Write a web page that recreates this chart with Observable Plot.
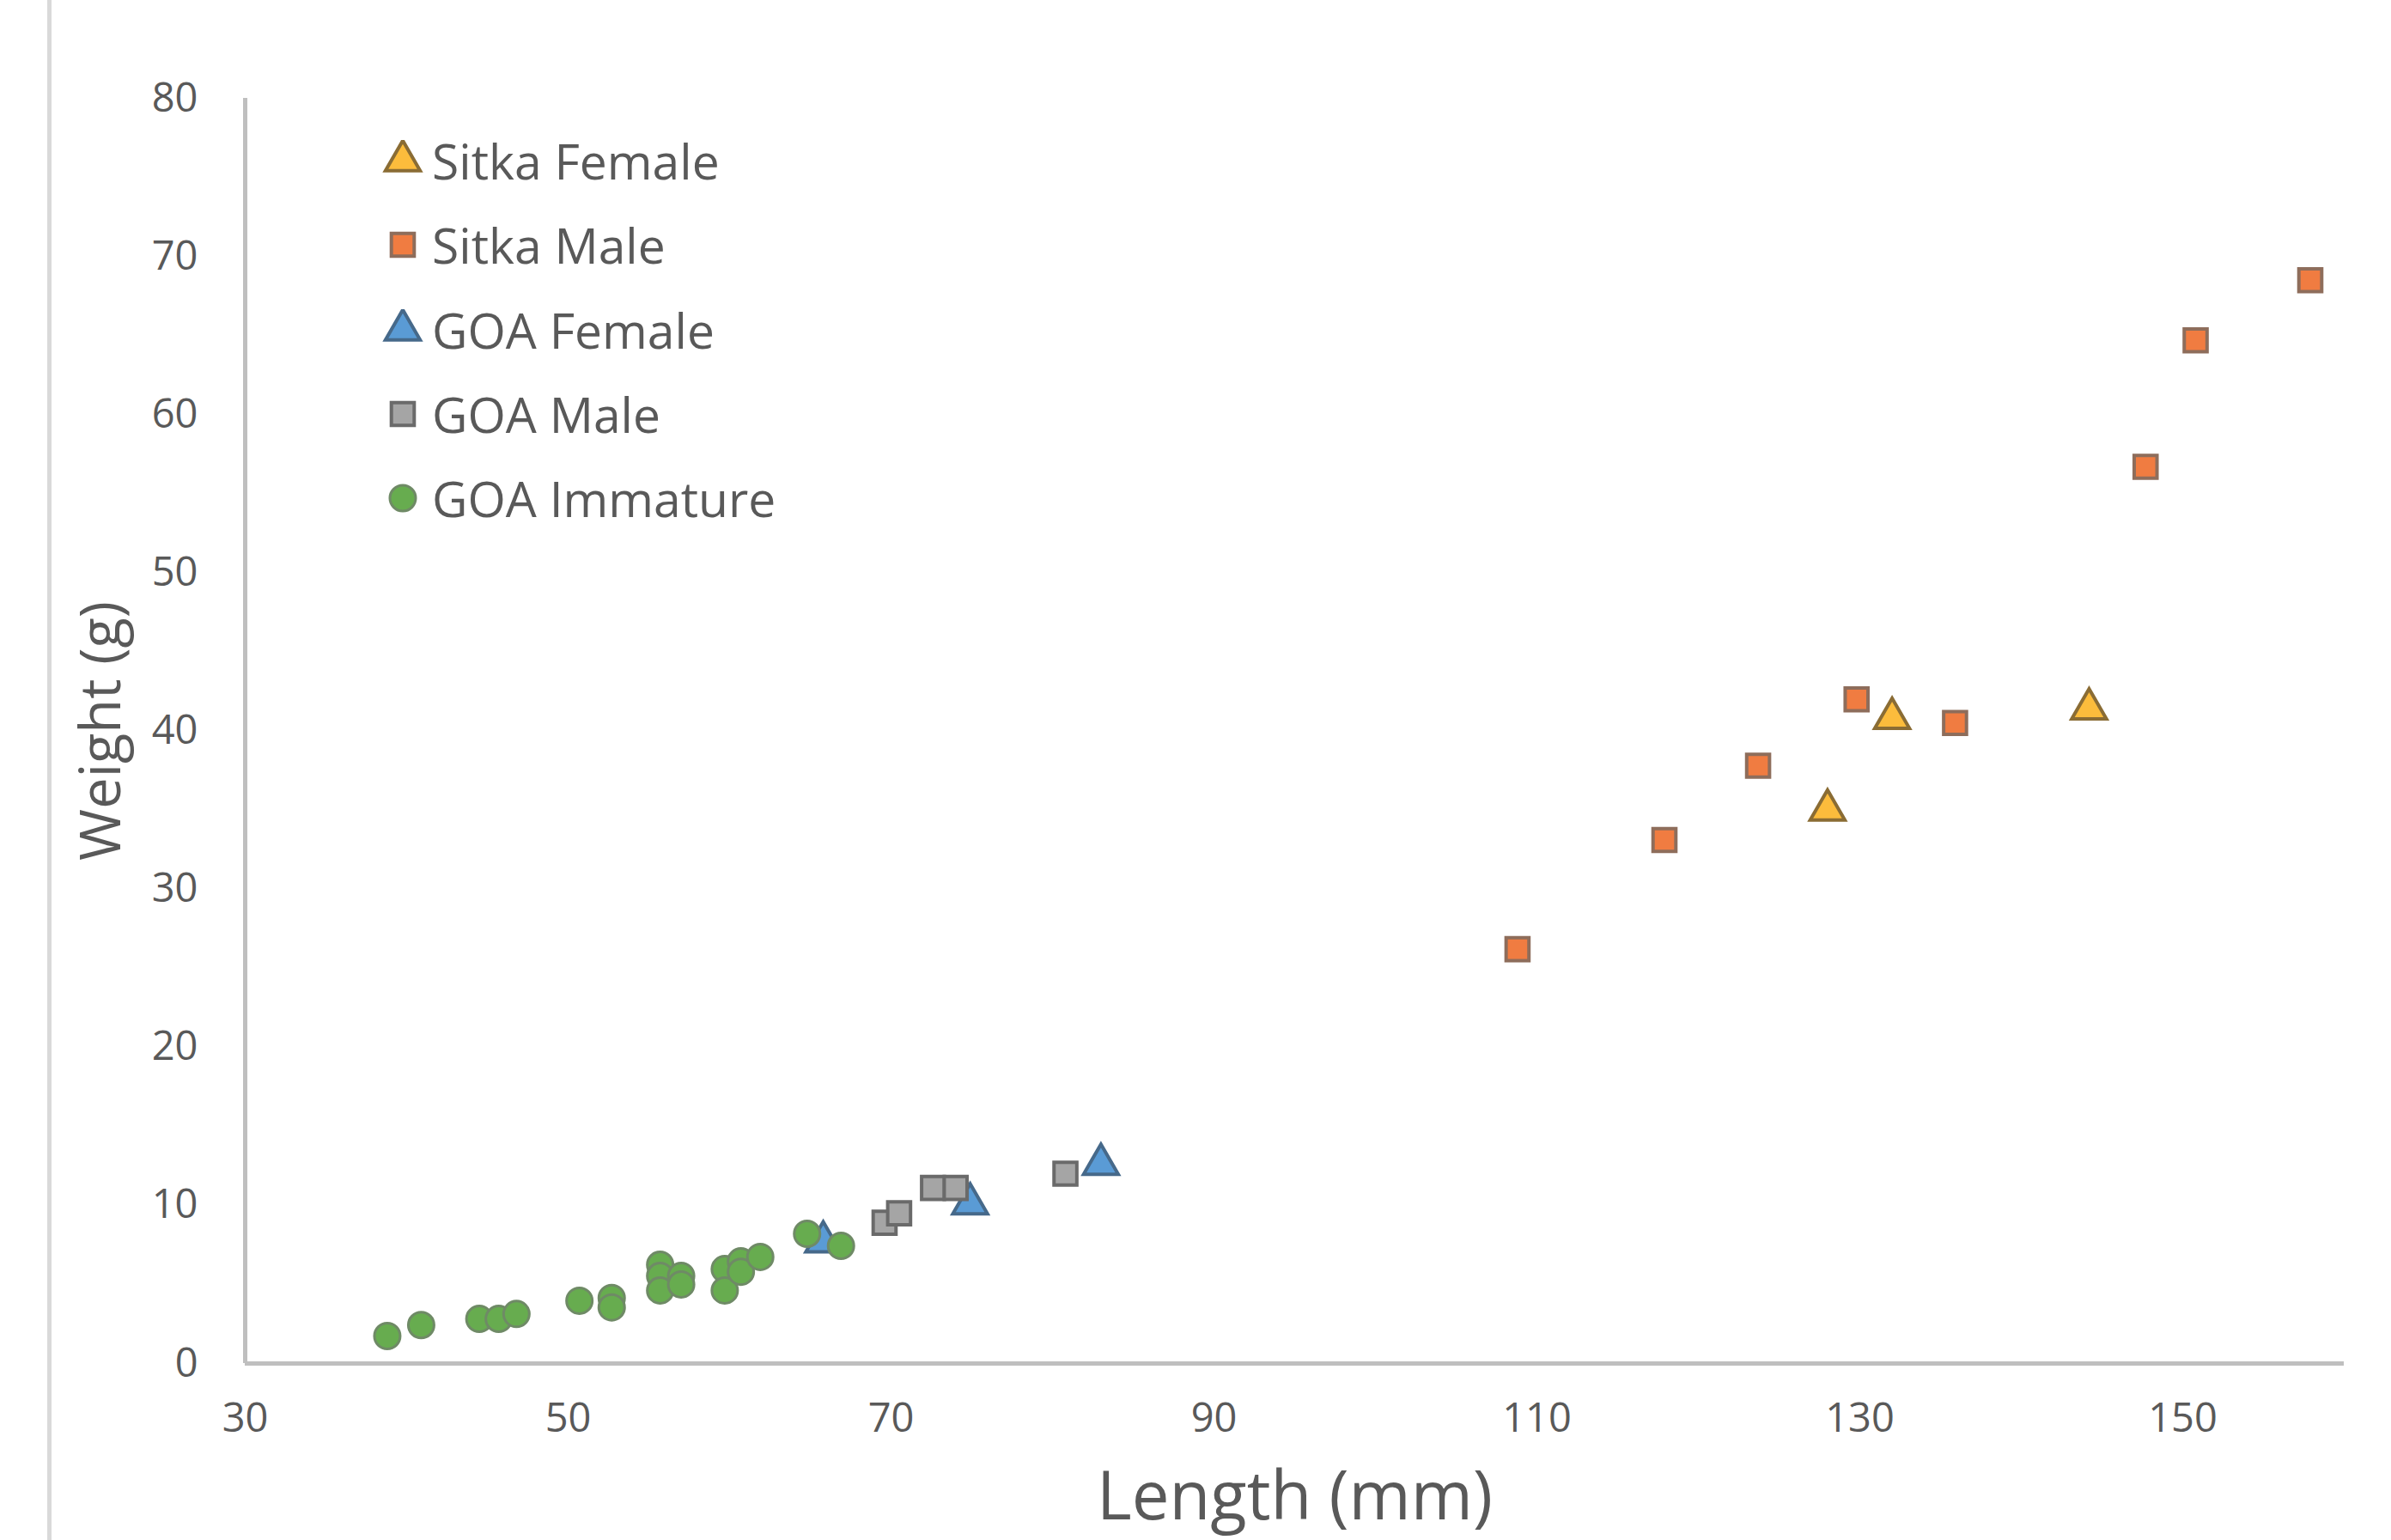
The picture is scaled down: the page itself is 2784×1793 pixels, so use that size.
<!DOCTYPE html>
<html>
<head>
<meta charset="utf-8">
<script src="https://cdn.jsdelivr.net/npm/d3@7"></script>
<script src="https://cdn.jsdelivr.net/npm/@observablehq/plot@0.6"></script>
<style>
  html, body { margin: 0; padding: 0; background: #fff; overflow: hidden; }
  #wrap { position: relative; width: 2784px; height: 1793px; }
  #edge { position: absolute; left: 55px; top: 0; width: 5px; height: 1793px; background: #d9d9d9; }
  #legend { position: absolute; left: 445px; top: 138px; font-family: "Open Sans"; font-size: 57px; color: #595959; }
  .item { display: flex; align-items: center; height: 98.3px; white-space: nowrap; }
  .item svg { margin-right: 10px; }
</style>
</head>
<body>
<div id="wrap"><div id="edge"></div><div id="chart"></div><div id="legend"></div></div>
<script>
// ---- data ----
const seriesNames = ["Sitka Female", "Sitka Male", "GOA Female", "GOA Male", "GOA Immature"];
const seriesSymbols = ["triangle", "square", "triangle", "square", "circle"];
const seriesFill = ["#fcbc3c", "#f07c41", "#5a9bd5", "#a5a5a5", "#67ac4f"];
const seriesStroke = ["#8a6c34", "#8e6d5b", "#46698a", "#6a6a6a", "#6f8a66"];

const sitkaFemaleLength = [128.0, 132.0, 144.2];
const sitkaFemaleWeight = [35.0, 40.8, 41.4];

const sitkaMaleLength = [108.8, 117.9, 123.7, 129.8, 135.9, 147.7, 150.8, 157.9];
const sitkaMaleWeight = [26.2, 33.1, 37.8, 42.0, 40.5, 56.7, 64.7, 68.5];

const goaFemaleLength = [65.8, 74.9, 83.0];
const goaFemaleWeight = [7.7, 10.1, 12.6];

const goaMaleLength = [69.6, 70.5, 72.6, 74.0, 80.8];
const goaMaleWeight = [8.9, 9.5, 11.1, 11.1, 12.0];

const goaImmatureLength = [38.8, 40.9, 44.5, 45.7, 46.8, 50.7, 52.7, 52.7, 55.7, 55.7, 55.7, 57.0, 57.0, 59.7, 59.7, 60.7, 60.7, 61.9, 64.8, 66.9];
const goaImmatureWeight = [1.74, 2.43, 2.82, 2.82, 3.13, 3.97, 4.14, 3.55, 6.25, 5.54, 4.62, 5.54, 5.0, 5.97, 4.62, 6.46, 5.8, 6.74, 8.2, 7.44];

const xTicks = [30, 50, 70, 90, 110, 130, 150];
const yTicks = [0, 10, 20, 30, 40, 50, 60, 70, 80];
const xTitle = "Length (mm)";
const yTitle = "Weight (g)";

// ---- build tables ----
const seriesLengths = [sitkaFemaleLength, sitkaMaleLength, goaFemaleLength, goaMaleLength, goaImmatureLength];
const seriesWeights = [sitkaFemaleWeight, sitkaMaleWeight, goaFemaleWeight, goaMaleWeight, goaImmatureWeight];
const tables = seriesNames.map((name, s) =>
  seriesLengths[s].map((len, i) => ({series: name, length: len, weight: seriesWeights[s][i]}))
);
const seriesR = [15, 15, 15, 15, 15];
const seriesStrokeWidth = [4, 4, 4, 4, 3];

const chart = Plot.plot({
  width: 2784,
  height: 1793,
  marginLeft: 285,
  marginRight: 55,
  marginTop: 114,
  marginBottom: 206,
  style: {fontFamily: "Open Sans", fontSize: "47px", color: "#595959", background: "white"},
  x: {domain: [30, 160], ticks: xTicks, tickSize: 0, tickPadding: 46, label: null},
  y: {domain: [0, 80], ticks: yTicks, tickSize: 0, tickPadding: 55, label: null},
  marks: [
    Plot.ruleX([30], {stroke: "#bfbfbf", strokeWidth: 5}),
    Plot.ruleY([0], {stroke: "#bfbfbf", strokeWidth: 5}),
    ...tables.map((t, s) => Plot.dot(t, {
      x: "length", y: "weight",
      symbol: () => seriesSymbols[s],
      r: seriesR[s],
      fill: seriesFill[s],
      stroke: seriesStroke[s],
      strokeWidth: seriesStrokeWidth[s]
    })),
    Plot.text([xTitle], {text: d => d, frameAnchor: "bottom", dy: 157, textAnchor: "middle", lineAnchor: "middle", fontSize: 78, fill: "#595959"}),
    Plot.text([yTitle], {text: d => d, frameAnchor: "left", dx: -166, rotate: -90, textAnchor: "middle", lineAnchor: "middle", fontSize: 65, fill: "#595959"})
  ]
});
document.getElementById("chart").appendChild(chart);

// ---- legend ----
const symbolTypes = {triangle: d3.symbolTriangle, square: d3.symbolSquare, circle: d3.symbolCircle};
const legend = d3.select("#legend");
seriesNames.forEach((name, s) => {
  const item = legend.append("div").attr("class", "item");
  const svg = item.append("svg").attr("width", 48).attr("height", 48);
  svg.append("path")
    .attr("transform", "translate(24,24)")
    .attr("d", d3.symbol(symbolTypes[seriesSymbols[s]], Math.PI * seriesR[s] * seriesR[s])())
    .attr("fill", seriesFill[s])
    .attr("stroke", seriesStroke[s])
    .attr("stroke-width", seriesStrokeWidth[s]);
  item.append("span").text(name);
});
</script>
</body>
</html>
